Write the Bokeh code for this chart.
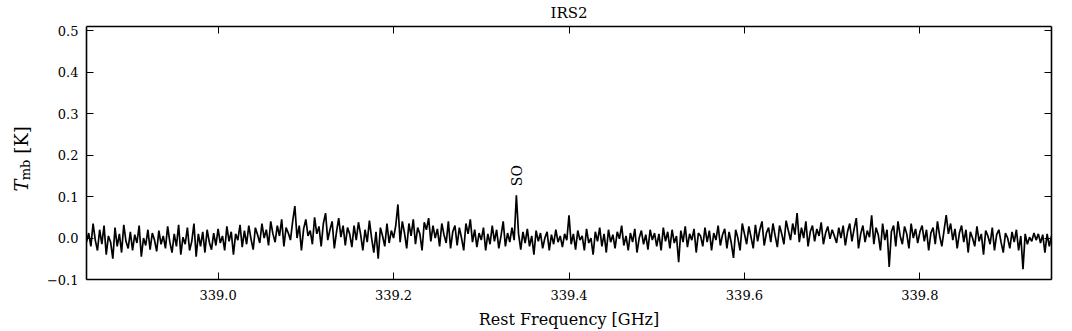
import math
from bokeh.plotting import figure
from bokeh.layouts import row
from bokeh.models import (Range1d, LinearAxis, FixedTicker,
                          CustomJSTickFormatter, ColumnDataSource)
from bokeh.core.properties import value
from bokeh.embed import file_html
from bokeh.resources import INLINE

# ---------------- data ----------------
source_name = "IRS2"
freq_start = 338.85      # GHz, first channel
chan_width = 0.0025      # GHz per channel

# main-beam temperature per channel [K]
tmb = [
    -0.010, 0.012, -0.020, 0.035, -0.005, -0.030, 0.020, -0.015, 0.030, -0.040, 0.005, -0.010, -0.050, 0.025, -0.020, 0.010, -0.035, 0.032, -0.008, -0.025,
    0.015, -0.030, 0.008, -0.012, 0.030, -0.045, 0.000, -0.018, 0.020, -0.028, 0.012, -0.005, -0.032, 0.018, -0.015, 0.005, -0.025, 0.028, -0.010, -0.035,
    0.010, -0.020, 0.032, -0.040, 0.002, -0.015, 0.025, -0.030, -0.008, 0.035, -0.045, 0.010, -0.020, 0.015, -0.035, 0.020, -0.010, -0.028, 0.012, -0.018,
    0.022, -0.012, 0.005, -0.030, 0.028, -0.008, 0.015, -0.040, 0.010, -0.005, 0.032, -0.022, 0.018, -0.015, 0.030, -0.002, -0.028, 0.025, 0.008, -0.012,
    0.035, 0.000, 0.020, -0.018, 0.040, 0.010, -0.010, 0.030, 0.005, 0.045, -0.020, 0.025, 0.012, -0.005, 0.040, 0.077, 0.000, 0.030, -0.030, 0.022,
    0.045, 0.005, 0.018, -0.015, 0.050, 0.010, 0.028, -0.020, 0.035, 0.060, -0.005, 0.020, 0.040, -0.025, 0.015, 0.048, 0.002, 0.030, -0.018, 0.025,
    0.010, -0.022, 0.030, -0.005, 0.038, 0.008, -0.030, 0.020, -0.010, 0.042, 0.000, -0.035, 0.015, -0.050, 0.025, 0.005, -0.020, 0.035, -0.012, 0.018,
    0.000, 0.030, 0.081, -0.010, 0.040, 0.012, -0.025, 0.035, 0.005, 0.045, -0.015, 0.025, 0.010, -0.030, 0.038, 0.020, 0.048, -0.008, 0.030, 0.000,
    0.022, -0.020, 0.035, 0.008, -0.012, 0.040, -0.025, 0.015, 0.030, -0.018, 0.025, 0.000, -0.030, 0.035, 0.010, 0.045, -0.010, 0.020, -0.022, 0.012,
    -0.005, 0.025, -0.030, 0.010, -0.015, 0.030, -0.008, 0.020, -0.025, 0.005, 0.040, -0.020, 0.012, -0.010, 0.025, -0.005, 0.103, 0.010, -0.028, 0.015,
    -0.012, 0.022, -0.020, 0.005, -0.040, 0.018, -0.008, 0.012, -0.025, 0.000, 0.015, -0.030, 0.008, -0.015, 0.020, -0.010, 0.005, -0.022, 0.010, -0.005,
    0.055, -0.015, 0.010, -0.028, 0.018, -0.005, 0.005, -0.030, 0.022, -0.012, 0.000, -0.040, 0.015, -0.008, 0.025, -0.020, 0.010, -0.035, 0.020, -0.010,
    0.008, -0.025, 0.015, -0.002, 0.030, -0.018, 0.005, -0.030, 0.012, -0.010, 0.022, -0.035, 0.000, 0.018, -0.015, 0.008, -0.028, 0.020, -0.005, 0.012,
    -0.020, 0.010, -0.030, 0.025, -0.008, 0.015, -0.025, 0.020, -0.012, 0.005, -0.058, 0.018, -0.010, 0.028, -0.022, 0.010, -0.005, 0.022, -0.035, 0.012,
    0.005, -0.020, 0.025, -0.010, 0.018, -0.030, 0.012, -0.005, 0.030, -0.018, 0.008, 0.022, -0.025, 0.015, -0.012, -0.048, 0.020, 0.000, -0.030, 0.035,
    0.010, -0.015, 0.028, 0.002, -0.025, 0.032, -0.008, 0.020, 0.040, -0.018, 0.012, 0.025, -0.010, 0.035, 0.005, -0.022, 0.030, 0.010, -0.015, 0.042,
    0.018, -0.005, 0.035, 0.008, 0.060, -0.010, 0.025, 0.000, 0.040, -0.020, 0.015, 0.030, -0.008, 0.022, 0.005, 0.038, -0.015, 0.012, 0.028, -0.002,
    0.020, 0.005, -0.012, 0.025, 0.000, 0.030, -0.018, 0.015, 0.035, -0.008, 0.022, 0.048, -0.025, 0.010, 0.030, -0.010, 0.018, 0.002, 0.055, -0.015,
    0.025, 0.008, -0.030, 0.035, -0.005, 0.020, -0.070, 0.015, 0.030, -0.020, 0.040, 0.005, -0.015, 0.028, 0.010, -0.025, 0.035, 0.000, 0.022, -0.012,
    0.015, 0.030, -0.008, 0.020, -0.030, 0.012, 0.025, -0.015, 0.040, 0.005, -0.020, 0.018, 0.055, 0.010, 0.035, -0.005, 0.022, -0.025, 0.012, 0.030,
    -0.010, 0.020, -0.035, 0.015, 0.000, -0.020, 0.028, -0.008, 0.010, -0.040, 0.018, 0.005, -0.015, 0.025, -0.030, 0.008, 0.020, -0.010, -0.035, 0.012,
    0.000, -0.025, 0.015, -0.010, 0.020, -0.030, 0.005, -0.075, 0.010, -0.015, 0.002, -0.008, 0.012, -0.005, 0.010, -0.012, 0.008, -0.035, 0.010, -0.020,
    0.005,
]
freq = [freq_start + i * chan_width for i in range(len(tmb))]

# identified lines
line_names = ["SO"]
line_freqs = [339.341]
line_peaks = [0.103]

xticks = [339.0, 339.2, 339.4, 339.6, 339.8]
yticks = [-0.1, 0.0, 0.1, 0.2, 0.3, 0.4, 0.5]
x_label = "Rest Frequency [GHz]"
y_label_parts = ["T", "mb", "[K]"]

# ---------------- layout ----------------
AX_FONT = "DejaVu Serif"        # axis texts
GL_FONT = "'DejaVu Serif'"      # glyph texts
W, H = 1072, 331
TOP, BOTTOM = 26, 50
LW = 42                     # width of the strip holding the y label

y_range = Range1d(-0.1, 0.51)

p = figure(width=W - LW, height=H,
           x_range=Range1d(338.85, 339.95), y_range=y_range,
           output_backend="svg", toolbar_location=None,
           min_border_left=86 - LW, min_border_right=21,
           min_border_top=TOP, min_border_bottom=BOTTOM)
p.grid.visible = False
p.outline_line_color = None

p.line(freq, tmb, line_color="black", line_width=1.7)

lab_src = ColumnDataSource(dict(x=line_freqs, y=[v + 0.022 for v in line_peaks], name=line_names))
p.text(x="x", y="y", text="name", source=lab_src, angle=math.pi / 2,
       text_align="left", text_baseline="middle",
       text_font=value(GL_FONT), text_font_size="14px", text_color="black")

fmt = CustomJSTickFormatter(code="return tick.toFixed(1).replace('-', '\\u2212');")
blank = CustomJSTickFormatter(code="return '';")

def style_axis(ax, show_labels):
    ax.axis_line_color = "black"
    ax.axis_line_width = 1.6
    ax.major_tick_in = 7
    ax.major_tick_out = 0
    ax.major_tick_line_color = "black"
    ax.major_tick_line_width = 1
    ax.minor_tick_line_color = None
    ax.major_label_text_font = AX_FONT
    ax.major_label_text_font_size = "13px" if show_labels else "0px"
    ax.major_label_text_color = "black"
    ax.formatter = fmt if show_labels else blank
    ax.axis_label_text_font = AX_FONT
    ax.axis_label_text_font_style = "normal"
    ax.axis_label_text_color = "black"

xa = p.xaxis[0]
xa.ticker = FixedTicker(ticks=xticks)
style_axis(xa, True)
xa.major_label_standoff = 10
xa.axis_label = x_label
xa.axis_label_text_font_size = "16px"
xa.axis_label_standoff = 7

ya = p.yaxis[0]
ya.ticker = FixedTicker(ticks=yticks)
style_axis(ya, True)
ya.major_label_standoff = 8

top = LinearAxis(ticker=FixedTicker(ticks=xticks))
style_axis(top, False)
top.major_label_standoff = 0
top.axis_label = source_name
top.axis_label_text_font_size = "15px"
top.axis_label_text_line_height = 1.0
top.axis_label_standoff = 5
p.add_layout(top, "above")

right = LinearAxis(ticker=FixedTicker(ticks=yticks))
style_axis(right, False)
right.major_label_standoff = 0
p.add_layout(right, "right")

# strip on the left carrying the y-axis label  T_mb [K]
q = figure(width=LW, height=H, x_range=Range1d(0, LW), y_range=y_range,
           output_backend="svg", toolbar_location=None,
           min_border_left=0, min_border_right=0,
           min_border_top=TOP, min_border_bottom=BOTTOM)
q.axis.visible = False
q.grid.visible = False
q.outline_line_color = None
ylab = ColumnDataSource(dict(
    x=[21, 25, 21],
    y=[0.112, 0.139, 0.203],
    t=y_label_parts,
    size=["18px", "13px", "18px"],
    style=["italic", "normal", "normal"],
))
q.text(x="x", y="y", text="t", source=ylab, angle=math.pi / 2,
       text_align="left", text_baseline="alphabetic",
       text_font=value(GL_FONT), text_font_size="size", text_font_style="style",
       text_color="black")

layout = row(q, p)
open("out.html", "w").write(file_html(layout, INLINE))
